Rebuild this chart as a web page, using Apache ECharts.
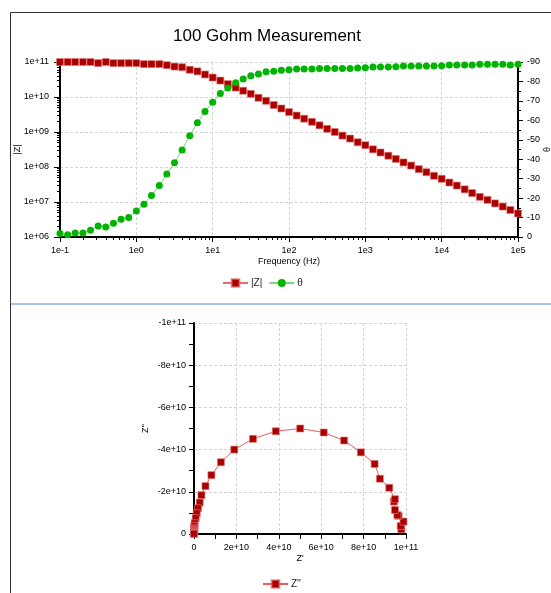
<!DOCTYPE html>
<html>
<head>
<meta charset="utf-8">
<script src="https://cdn.jsdelivr.net/npm/echarts@6/dist/echarts.min.js"></script>
<style>
  html, body { margin: 0; padding: 0; background: #fff; }
  #main { width: 551px; height: 593px; }
</style>
</head>
<body>
<div id="main"></div>
<script>
// frequencies (Hz), 10 points per decade
let freqHz = [
    0.1, 0.126, 0.158, 0.2, 0.251, 0.316, 0.398, 0.501, 0.631, 0.794,
    1, 1.26, 1.58, 2, 2.51, 3.16, 3.98, 5.01, 6.31, 7.94,
    10, 12.6, 15.8, 20, 25.1, 31.6, 39.8, 50.1, 63.1, 79.4,
    100, 126, 158, 200, 251, 316, 398, 501, 631, 794,
    1000, 1260, 1580, 2000, 2510, 3160, 3980, 5010, 6310, 7940,
    10000, 12600, 15800, 20000, 25100, 31600, 39800, 50100, 63100, 79400,
    100000
];

// |Z| (ohm)
let zMag = [
    1.0e11, 1.0e11, 1.0e11, 1.0e11, 1.0e11, 9.3e10, 1.0e11, 9.3e10, 9.3e10, 9.3e10,
    9.3e10, 8.7e10, 8.7e10, 8.7e10, 8.1e10, 7.4e10, 7.1e10, 6.0e10, 5.4e10, 4.4e10,
    3.6e10, 2.95e10, 2.34e10, 1.86e10, 1.51e10, 1.23e10, 9.5e9, 7.8e9, 5.9e9, 4.7e9,
    3.7e9, 2.95e9, 2.4e9, 1.95e9, 1.55e9, 1.23e9, 1.0e9, 7.9e8, 6.5e8, 5.1e8,
    4.2e8, 3.2e8, 2.6e8, 2.1e8, 1.7e8, 1.35e8, 1.1e8, 8.7e7, 7.1e7, 5.6e7,
    4.6e7, 3.6e7, 2.95e7, 2.3e7, 1.8e7, 1.4e7, 1.15e7, 9.1e6, 7.4e6, 5.9e6,
    4.7e6
];

// phase (deg)
let theta = [
    -1.8, -1.2, -2.1, -2.1, -3.5, -5.7, -5.2, -7.1, -9.1, -10.0,
    -13.4, -16.9, -21.3, -26.5, -32.4, -38.2, -44.7, -52.1, -58.7, -64.6,
    -69.3, -73.8, -76.6, -79.3, -81.2, -82.9, -83.8, -85.0, -85.3, -85.7,
    -86.0, -86.4, -86.4, -86.4, -86.7, -86.7, -86.7, -86.7, -86.7, -86.9,
    -87.0, -87.4, -87.4, -87.4, -87.6, -87.9, -87.9, -87.9, -87.9, -87.9,
    -88.1, -88.4, -88.4, -88.4, -88.4, -88.8, -88.8, -88.8, -88.8, -88.4,
    -88.8
];

// Nyquist: Z' and Z'' (ohm), low freq -> high freq
let zReal = [
    97.8e9, 97.5e9, 98.8e9, 96.5e9, 95.9e9, 94.8e9, 94.3e9, 94.8e9, 92.1e9, 87.7e9,
    85.2e9, 78.7e9, 70.8e9, 61.2e9, 50.1e9, 38.6e9, 27.8e9, 19.0e9, 12.7e9, 8.2e9,
    5.4e9, 3.5e9, 2.7e9, 1.9e9, 1.3e9, 0.8e9, 0.3e9, 0.2e9, 0.15e9, 0.1e9,
    0.08e9, 0.05e9, 0.04e9, 0.03e9, 0.02e9, 0.01e9, 0.01e9, 0, 0
];
let zImag = [
    -2.2e9, -3.8e9, -5.9e9, -8.6e9, -9.0e9, -11.4e9, -15.4e9, -16.5e9, -21.9e9, -26.2e9,
    -33.2e9, -38.7e9, -44.3e9, -48.1e9, -50.0e9, -48.7e9, -45.1e9, -40.0e9, -34.0e9, -27.9e9,
    -22.7e9, -18.4e9, -14.9e9, -12.2e9, -9.8e9, -7.5e9, -5.1e9, -3.9e9, -3.0e9, -2.4e9,
    -1.9e9, -1.5e9, -1.2e9, -0.9e9, -0.7e9, -0.5e9, -0.3e9, -0.2e9, -0.1e9
];

let RED = '#aa0000';
let GREEN = '#00b400';
let FONT = 'Liberation Sans';

// minor tick positions (log10 space) for the log axes
function minorLogTicks(lo, hi) {
    let out = [];
    for (let k = lo; k < hi; k++) {
        for (let m = 2; m <= 9; m++) {
            out.push(k + Math.log10(m));
        }
    }
    return out;
}

let label = { color: '#000', fontSize: 9, fontFamily: FONT };
let axisLine = { onZero: false, lineStyle: { color: '#000', width: 2 } };
let split = { show: true, lineStyle: { color: '#d4d4d4', type: [3, 2], width: 1 } };

let chart = echarts.init(document.getElementById('main'));

chart.setOption({
    backgroundColor: '#fff',
    animation: false,
    title: {
        text: '100 Gohm Measurement',
        left: 168,
        top: 23,
        textStyle: { fontFamily: FONT, fontSize: 17, fontWeight: 'normal', color: '#000' }
    },
    graphic: [
        { type: 'line', shape: { x1: 10.5, y1: 12.5, x2: 551, y2: 12.5 }, style: { stroke: '#333', lineWidth: 1 } },
        { type: 'line', shape: { x1: 10.5, y1: 12.5, x2: 10.5, y2: 593 }, style: { stroke: '#333', lineWidth: 1 } },
        { type: 'line', shape: { x1: 11, y1: 304, x2: 551, y2: 304 }, style: { stroke: '#a9c3ea', lineWidth: 2 } }
    ],
    legend: [
        {
            data: ['|Z|', 'θ'],
            left: 217,
            top: 273,
            itemWidth: 25,
            itemHeight: 10,
            itemGap: 6,
            textStyle: { fontFamily: FONT, fontSize: 10, color: '#222', padding: [0, 0, 0, -2] }
        },
        {
            data: ["Z''"],
            left: 257,
            top: 574,
            itemWidth: 25,
            itemHeight: 10,
            textStyle: { fontFamily: FONT, fontSize: 10, color: '#222', padding: [0, 0, 0, -2] }
        }
    ],
    grid: [
        { left: 60, top: 62, width: 458, height: 175, outerBoundsMode: 'none', containLabel: false },
        { left: 194, top: 323, width: 212, height: 211, outerBoundsMode: 'none', containLabel: false }
    ],
    xAxis: [
        {
            type: 'log', gridIndex: 0, position: 'bottom', logBase: 10,
            min: 0.1, max: 1e5,
            name: 'Frequency (Hz)', nameLocation: 'middle', nameGap: 20,
            nameTextStyle: label,
            axisLine: axisLine,
            axisTick: { length: 5, lineStyle: { color: '#000' } },
            axisLabel: Object.assign({
                margin: 9,
                formatter: function (v) { return '1e' + Math.round(Math.log10(v)); }
            }, label),
            splitLine: split
        },
        {
            // minor ticks only
            type: 'value', gridIndex: 0, position: 'bottom', min: -1, max: 5,
            axisLine: { show: false, onZero: false },
            axisTick: { show: true, length: 3, lineStyle: { color: '#000' }, customValues: minorLogTicks(-1, 5) },
            axisLabel: { show: false },
            splitLine: { show: false }
        },
        {
            type: 'value', gridIndex: 1, position: 'bottom',
            min: 0, max: 1e11, interval: 2e10,
            name: "Z'", nameLocation: 'middle', nameGap: 20,
            nameTextStyle: label,
            axisLine: axisLine,
            axisTick: { length: 5, lineStyle: { color: '#000' } },
            minorTick: { show: true, splitNumber: 2, length: 5, lineStyle: { color: '#000' } },
            axisLabel: Object.assign({
                margin: 9,
                formatter: function (v) { return v === 0 ? '0' : v.toExponential(); }
            }, label),
            splitLine: split
        }
    ],
    yAxis: [
        {
            type: 'log', gridIndex: 0, position: 'left', logBase: 10,
            min: 1e6, max: 1e11,
            name: '|Z|', nameLocation: 'middle', nameGap: 38, nameRotate: 90,
            nameMoveOverlap: false,
            nameTextStyle: label,
            axisLine: axisLine,
            axisTick: { length: 6, lineStyle: { color: '#000' } },
            axisLabel: Object.assign({
                margin: 11,
                formatter: function (v) {
                    let e = Math.round(Math.log10(v));
                    return '1e+' + (e < 10 ? '0' + e : e);
                }
            }, label),
            splitLine: split
        },
        {
            type: 'value', gridIndex: 0, position: 'right',
            min: -90, max: 0, interval: 10, inverse: true,
            name: 'θ', nameLocation: 'middle', nameGap: 25, nameRotate: 90,
            nameMoveOverlap: false,
            nameTextStyle: label,
            axisLine: axisLine,
            axisTick: { length: 5, lineStyle: { color: '#000' } },
            minorTick: { show: true, splitNumber: 2, length: 3, lineStyle: { color: '#000' } },
            axisLabel: Object.assign({ margin: 9 }, label),
            splitLine: { show: false }
        },
        {
            // minor ticks only
            type: 'value', gridIndex: 0, position: 'left', min: 6, max: 11,
            axisLine: { show: false, onZero: false },
            axisTick: { show: true, length: 3, lineStyle: { color: '#000' }, customValues: minorLogTicks(6, 11) },
            axisLabel: { show: false },
            splitLine: { show: false }
        },
        {
            type: 'value', gridIndex: 1, position: 'left',
            min: -1e11, max: 0, interval: 2e10, inverse: true,
            name: "Z''", nameLocation: 'middle', nameGap: 44, nameRotate: 90,
            nameTextStyle: label,
            axisLine: axisLine,
            axisTick: { length: 5, lineStyle: { color: '#000' } },
            minorTick: { show: true, splitNumber: 2, length: 5, lineStyle: { color: '#000' } },
            axisLabel: Object.assign({
                margin: 8,
                formatter: function (v) { return v === 0 ? '0' : v.toExponential(); }
            }, label),
            splitLine: split
        }
    ],
    series: [
        {
            name: '|Z|', type: 'line', xAxisIndex: 0, yAxisIndex: 0,
            data: freqHz.map((f, i) => [f, zMag[i]]),
            symbol: 'rect', symbolSize: 7,
            itemStyle: { color: RED, borderColor: 'rgba(230,120,120,0.6)', borderWidth: 1 },
            lineStyle: { color: '#e07070', width: 1 }
        },
        {
            name: 'θ', type: 'line', xAxisIndex: 0, yAxisIndex: 1,
            data: freqHz.map((f, i) => [f, theta[i]]),
            symbol: 'circle', symbolSize: 7,
            itemStyle: { color: GREEN },
            lineStyle: { color: '#7ad87a', width: 1 }
        },
        {
            name: "Z''", type: 'line', xAxisIndex: 2, yAxisIndex: 3,
            data: zReal.map((x, i) => [x, zImag[i]]),
            symbol: 'rect', symbolSize: 7,
            itemStyle: { color: RED, borderColor: 'rgba(230,120,120,0.6)', borderWidth: 1 },
            lineStyle: { color: '#e06060', width: 1 }
        }
    ]
});
</script>
</body>
</html>
